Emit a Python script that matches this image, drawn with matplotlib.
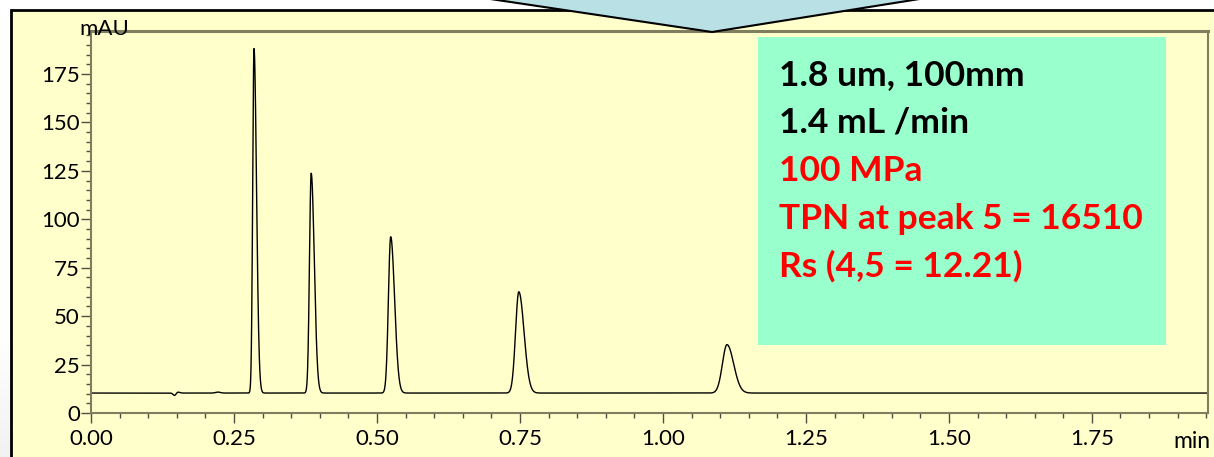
import numpy as np
import matplotlib
matplotlib.use("Agg")
import matplotlib.pyplot as plt
from matplotlib.patches import Rectangle, Polygon
from matplotlib.ticker import MultipleLocator

plt.rcParams['font.family'] = ['Lato', 'DejaVu Sans']

# ---- data ----
peak_times = [0.285, 0.385, 0.524, 0.748, 1.112]       # min
peak_heights = [178.0, 113.5, 80.7, 52.3, 25.0]       # mAU above baseline
peak_sigma_left = [0.0023, 0.0030, 0.0040, 0.0057, 0.0080]   # min
peak_tailing = [1.9, 1.8, 1.7, 1.6, 1.45]             # right/left width ratio
baseline_level = 10.3                                  # mAU
baseline_events_t = [0.146, 0.152, 0.222]              # small disturbances
baseline_events_h = [-1.3, 0.5, 0.5]
baseline_events_w = [0.0025, 0.003, 0.004]

info_lines = ["1.8 um, 100mm", "1.4 mL /min", "100 MPa",
              "TPN at peak 5 = 16510", "Rs (4,5 = 12.21)"]
info_colors = ["black", "black", "red", "red", "red"]

x_max = 1.953
y_max = 197.2
x_ticks = [0.00, 0.25, 0.50, 0.75, 1.00, 1.25, 1.50, 1.75]
y_ticks = [0, 25, 50, 75, 100, 125, 150, 175]

# ---- build trace ----
t = np.linspace(0, x_max, 6000)
y = np.full_like(t, baseline_level)
for tc, h, w in zip(baseline_events_t, baseline_events_h, baseline_events_w):
    y += h * np.exp(-0.5 * ((t - tc) / w) ** 2)
for tc, h, sl, tf in zip(peak_times, peak_heights, peak_sigma_left, peak_tailing):
    s = np.where(t < tc, sl, sl * tf)
    y += h * np.exp(-0.5 * ((t - tc) / s) ** 2)

W, H = 1214, 457
fig = plt.figure(figsize=(W / 100, H / 100), dpi=100)
fig.patch.set_facecolor('white')

def fx(px):
    return px / W

def fy(py):
    return 1 - py / H

# subtle grey shading on far left bottom
gax = fig.add_axes([0, 0, fx(11), fy(330)], zorder=-3)
grad = np.linspace(0.0, 1.0, 100)[:, None]
gax.imshow(grad, aspect='auto', cmap='Greys', vmin=0, vmax=9, extent=[0, 1, 0, 1])
gax.axis('off')

# outer frame
frame = Rectangle((fx(11), fy(470)), fx(1230) - fx(11), fy(10) - fy(470),
                  transform=fig.transFigure, facecolor='#FFFFCC',
                  edgecolor='black', linewidth=2.0, zorder=-2)
fig.patches.append(frame)

ax_l, ax_r, ax_t, ax_b = 91, 1208, 31, 413
ax = fig.add_axes([fx(ax_l), fy(ax_b), fx(ax_r - ax_l), fy(ax_t) - fy(ax_b)], zorder=1)
ax.set_facecolor('#FFFFCC')
ax.plot(t, y, color='black', linewidth=1.0)
ax.set_xlim(0, x_max)
ax.set_ylim(0, y_max)

spine_col = '#7F7F60'
for sp in ax.spines.values():
    sp.set_color(spine_col)
    sp.set_linewidth(1.5)
ax.spines['top'].set_linewidth(2.2)

ax.set_xticks(x_ticks)
ax.set_xticklabels([f"{v:.2f}" for v in x_ticks])
ax.set_yticks(y_ticks)
ax.set_yticklabels([str(v) for v in y_ticks])
ax.xaxis.set_minor_locator(MultipleLocator(0.05))
ax.yaxis.set_minor_locator(MultipleLocator(5))
ax.tick_params(axis='both', which='major', length=7.2, width=1.0,
               color='#505040', labelsize=16, direction='out')
ax.tick_params(axis='both', which='minor', length=3.6, width=1.0,
               color='#505040', direction='out')
ax.tick_params(axis='y', which='major', pad=0.8)
ax.tick_params(axis='x', which='major', pad=4.5)

fig.text(fx(104), fy(29), "mAU", ha='center', va='center', fontsize=16, zorder=6)
fig.text(fx(1173), fy(448), "min", ha='left', va='baseline', fontsize=16.5, zorder=6)

# info box
box = Rectangle((fx(758), fy(345)), fx(1166) - fx(758), fy(37) - fy(345),
                transform=fig.transFigure, facecolor='#99FFCC',
                edgecolor='none', zorder=3)
fig.patches.append(box)
baselines = [85, 133, 181, 229, 277]
for txt, col, b in zip(info_lines, info_colors, baselines):
    fig.text(fx(779), fy(b), txt, color=col, fontsize=25.5, fontweight='bold',
             ha='left', va='baseline', zorder=4)

# arrow shape at top
arrow = Polygon([(fx(430), fy(-10)), (fx(712), fy(32)), (fx(976), fy(-10))],
                closed=True, transform=fig.transFigure, facecolor='#B9E0E4',
                edgecolor='black', linewidth=1.5, zorder=5)
fig.patches.append(arrow)

fig.savefig('out.png', dpi=100)
